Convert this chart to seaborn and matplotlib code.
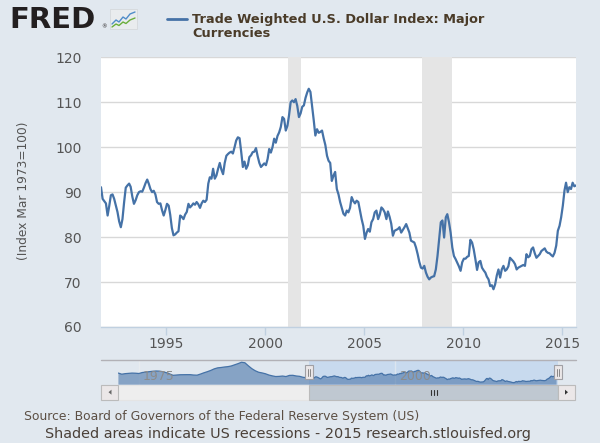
import numpy as np
import pandas as pd
import matplotlib
matplotlib.use("Agg")
import matplotlib.pyplot as plt
import matplotlib.dates as mdates
import matplotlib.transforms as mtransforms
from matplotlib.patches import Rectangle, Polygon
import seaborn as sns

# ---------------- data ----------------
series_start = "1991-08-15"   # monthly observations
index_values = [
    # 1991 (Aug-Dec)
    91.1, 88.5, 88.0, 87.5, 84.8,
    # 1992
    87.0, 89.3, 89.5, 88.5, 87.0, 85.6, 83.5, 82.2, 84.0, 87.8, 91.0, 91.5,
    # 1993
    91.9, 91.2, 89.0, 87.4, 88.2, 89.3, 90.0, 90.2, 90.1, 91.0, 92.0, 92.8,
    # 1994
    91.8, 90.7, 90.0, 90.3, 89.5, 87.8, 87.4, 87.5, 86.0, 84.8, 86.0, 87.4,
    # 1995
    87.0, 85.0, 82.0, 80.4, 80.6, 81.0, 81.3, 84.8, 84.5, 84.0, 85.0, 85.6,
    # 1996
    87.4, 86.6, 87.0, 87.5, 87.2, 87.8, 87.3, 86.5, 87.5, 88.1, 87.8, 88.3,
    # 1997
    91.9, 93.3, 93.0, 95.2, 93.0, 93.7, 95.2, 96.5, 95.0, 94.0, 96.5, 98.1,
    # 1998
    98.5, 98.8, 99.0, 98.6, 100.0, 101.5, 102.2, 102.0, 99.0, 95.6, 96.8, 95.2,
    # 1999
    96.0, 97.8, 98.2, 98.9, 99.0, 99.8, 98.0, 96.5, 95.6, 96.0, 96.4, 96.0,
    # 2000
    97.4, 99.6, 98.8, 100.0, 101.9, 101.0, 102.5, 103.3, 104.5, 106.7, 106.3, 103.7,
    # 2001
    104.8, 107.0, 110.0, 110.4, 110.0, 110.7, 109.2, 106.7, 107.5, 109.0, 109.3, 111.0,
    # 2002
    112.2, 113.0, 112.3, 109.3, 106.0, 102.6, 104.0, 103.2, 103.4, 103.7, 102.0, 100.5,
    # 2003
    98.1, 97.0, 96.5, 92.5, 93.7, 94.5, 90.7, 89.5, 87.8, 86.5, 85.2, 84.8,
    # 2004
    85.9, 85.5, 86.5, 88.9, 88.0, 87.5, 88.1, 87.8, 85.9, 84.0, 82.5, 79.6,
    # 2005
    81.0, 81.8, 81.2, 83.3, 84.0, 85.5, 85.9, 84.0, 85.0, 86.6, 86.2, 85.5,
    # 2006
    84.0, 85.7, 84.5, 83.0, 80.3, 81.4, 81.6, 81.8, 82.2, 81.0, 81.6, 82.2,
    # 2007
    82.9, 82.0, 81.0, 79.2, 79.0, 78.8, 77.7, 76.2, 74.5, 73.2, 73.0, 73.6,
    # 2008
    72.1, 71.2, 70.6, 71.0, 71.2, 71.3, 72.8, 75.8, 79.6, 83.3, 83.7, 79.9,
    # 2009
    84.4, 85.1, 83.3, 81.0, 77.7, 75.8, 75.1, 74.3, 73.5, 72.5, 74.4, 75.2,
    # 2010
    75.2, 75.6, 75.8, 79.4, 78.8, 77.3, 75.1, 72.7, 74.4, 74.7, 73.2, 72.6,
    # 2011
    72.1, 71.2, 70.6, 69.1, 69.3, 68.4, 69.5, 71.5, 72.8, 71.0, 72.8, 73.6,
    # 2012
    72.5, 72.8, 73.5, 75.4, 75.0, 74.6, 74.0, 72.8, 73.2, 73.4, 73.6, 73.8,
    # 2013
    73.6, 76.2, 75.5, 75.8, 77.3, 77.7, 76.4, 75.4, 75.8, 76.2, 76.9, 77.2,
    # 2014
    77.5, 76.8, 76.5, 76.4, 76.0, 75.7, 76.5, 78.1, 81.4, 82.5, 84.4, 87.0,
    # 2015 (Jan-Aug)
    90.4, 92.1, 90.0, 91.1, 90.7, 92.1, 91.3, 91.5,
]

# navigator history (every 4 months, Jan 1973 - May 1991)
history_start = "1973-01-01"
history_values = [
    103.0, 99.0, 101.0, 102.0, 103.0, 102.5, 101.5, 105.0, 106.5, 108.0,
    109.5, 110.5, 110.0, 108.0, 104.5, 100.0, 95.0, 96.2, 97.0, 97.3,
    97.3, 97.3, 96.0, 95.5, 99.5, 104.0, 108.0, 112.5, 118.0, 121.7,
    123.0, 124.8, 126.1, 128.5, 132.7, 137.0, 142.0, 140.0, 129.0, 119.0,
    111.5, 106.0, 103.6, 100.6, 96.0, 93.0, 90.6, 91.2, 92.4, 90.5,
    94.7, 95.0, 92.6, 91.3, 87.8, 86.6,
]

recessions = [("2001-03-01", "2001-11-01"), ("2007-12-01", "2009-06-01")]
x_tick_years = [1995, 2000, 2005, 2010, 2015]
y_tick_values = [60, 70, 80, 90, 100, 110, 120]
nav_label_years = [1975, 2000]

title_lines = ["Trade Weighted U.S. Dollar Index: Major", "Currencies"]
y_label = "(Index Mar 1973=100)"
source_text = "Source: Board of Governors of the Federal Reserve System (US)"
footer_text = "Shaded areas indicate US recessions - 2015 research.stlouisfed.org"

# ---------------- frames ----------------
df = pd.DataFrame({
    "date": pd.date_range(series_start, periods=len(index_values), freq="MS") + pd.Timedelta(days=14),
    "value": index_values,
})
hist = pd.DataFrame({
    "date": pd.date_range(history_start, periods=len(history_values), freq="4MS"),
    "value": history_values,
})
nav_df = pd.concat([hist, df], ignore_index=True)

# ---------------- style ----------------
BG = "#E1E8EF"
LINE = "#4572A7"
sns.set_theme(style="white")
plt.rcParams["font.family"] = ["DejaVu Sans"]

W, H = 600, 443
fig = plt.figure(figsize=(W / 100, H / 100), dpi=100, facecolor=BG)


def px_axes(l, t, r, b, **kw):
    return fig.add_axes([l / W, 1 - b / H, (r - l) / W, (b - t) / H], **kw)


# background helper layer (pixel coordinates)
under = fig.add_axes([0, 0, 1, 1], zorder=0)
under.set_xlim(0, W)
under.set_ylim(H, 0)
under.axis("off")
under.patch.set_alpha(0)

# ---------------- main chart ----------------
ax = px_axes(101, 57.3, 576, 327, zorder=1)
ax.set_facecolor("white")
ax.set_axisbelow(True)
for s, e in recessions:
    ax.axvspan(pd.Timestamp(s), pd.Timestamp(e), color="#E5E5E5", lw=0, zorder=1)
sns.lineplot(data=df, x="date", y="value", ax=ax, color=LINE, lw=1.6, zorder=3)
ax.set_xlim(df["date"].iloc[0], df["date"].iloc[-1])
ax.set_ylim(y_tick_values[0], y_tick_values[-1])
ax.set_yticks(y_tick_values)
ax.set_yticklabels([str(v) for v in y_tick_values])
ax.set_xticks([pd.Timestamp(f"{y}-01-01") for y in x_tick_years])
ax.set_xticklabels([str(y) for y in x_tick_years])
ax.yaxis.grid(True, color="#D8D8D8", lw=1)
ax.xaxis.grid(False)
ax.set_xlabel("")
ax.set_ylabel("")
for side in ["top", "right", "left"]:
    ax.spines[side].set_visible(False)
ax.spines["bottom"].set_color("#C0D0E0")
ax.spines["bottom"].set_linewidth(1)
ax.tick_params(axis="y", length=0, pad=14, labelsize=10, labelcolor="#555555")
ax.tick_params(axis="x", direction="out", length=5.8, width=1, color="#C0D0E0",
               pad=1.5, labelsize=10, labelcolor="#555555", bottom=True)

fig.text(24 / W, 1 - 191 / H, y_label, rotation=90, ha="center", va="center",
         fontsize=8.8, color="#555555")

# ---------------- navigator ----------------
sel_l, sel_r = 309, 558
under.add_patch(Rectangle((sel_l, 360.3), sel_r - sel_l, 24.4, facecolor="#C8DAEE",
                          edgecolor="none"))

NAV_LO, NAV_HI = 61.3, 148.9
nav = px_axes(118.4, 360.3, 556.6, 384.7, zorder=2)
nav.patch.set_alpha(0)
nav_x = mdates.date2num(nav_df["date"].to_numpy())
nav_y = nav_df["value"].to_numpy(dtype=float)
nav.fill_between(nav_x, nav_y, NAV_LO, facecolor=LINE, alpha=0.58, edgecolor="none", zorder=1)
sns.lineplot(x=nav_x, y=nav_y, ax=nav, color=LINE, lw=0.9, zorder=2)
nav.set_xlim(nav_x[0], nav_x[-1])
nav.set_ylim(NAV_LO, NAV_HI)
nav.axis("off")
lab_tr = mtransforms.offset_copy(nav.get_xaxis_transform(), fig=fig, x=3.7, y=0, units="dots")
for yr in nav_label_years:
    xv = mdates.date2num(pd.Timestamp(f"{yr}-01-01"))
    nav.axvline(xv, color="#F0F0F0", lw=1, alpha=0.5, zorder=0)
    nav.text(xv, 0.33, str(yr), transform=lab_tr, ha="left",
             va="center", fontsize=9, color="#8C8C8C", zorder=3)

# ---------------- decorations (pixel coordinates) ----------------
deco = fig.add_axes([0, 0, 1, 1], zorder=5)
deco.set_xlim(0, W)
deco.set_ylim(H, 0)
deco.axis("off")
deco.patch.set_alpha(0)

deco.plot([101, 575.5], [360.3, 360.3], color="#B2B1B6", lw=1)

# scrollbar
deco.add_patch(Rectangle((101, 384.7), 474, 15, facecolor="#EEEEEE", edgecolor="#E4E4E4", lw=0.8))
deco.add_patch(Rectangle((sel_l, 384.7), sel_r - sel_l, 15, facecolor="#BFC8D1",
                         edgecolor="#BBBBBB", lw=0.8))
for bx in (101, 557.7):
    deco.add_patch(Rectangle((bx, 384.7), 17.3, 15, facecolor="#EBE7E8",
                             edgecolor="#BBBBBB", lw=0.8))
deco.add_patch(Polygon([[111.5, 389.7], [111.5, 394.7], [108.5, 392.2]], closed=True,
                       facecolor="#666666", edgecolor="none"))
deco.add_patch(Polygon([[565, 389.7], [565, 394.7], [568, 392.2]], closed=True,
                       facecolor="#333333", edgecolor="none"))
gx = (sel_l + sel_r) / 2
for dx in (-3, 0, 3):
    deco.plot([gx + dx, gx + dx], [389.7, 394.7], color="#333333", lw=0.8)

# navigator handles
for hx in (sel_l, sel_r):
    deco.add_patch(Rectangle((hx - 3.8, 364.7), 7.6, 14.6, facecolor="#EBE7E8",
                             edgecolor="#A0A0A5", lw=0.8))
    for dx in (-1.2, 1.2):
        deco.plot([hx + dx, hx + dx], [368.5, 375.5], color="#888888", lw=0.7)

# ---------------- header ----------------
fig.text(9 / W, 1 - 28.5 / H, "FRED", ha="left", va="baseline", fontsize=21,
         fontweight="heavy", color="#231F20")
fig.text(101 / W, 1 - 28.5 / H, "®", ha="left", va="baseline", fontsize=4, color="#231F20")
deco.add_patch(Rectangle((110, 9), 27, 20, facecolor="#E9ECEE", edgecolor="#D5D9DC", lw=0.6))
deco.plot([112, 116, 119, 123, 126, 130, 135], [24, 20, 22, 17, 19, 14, 12], color="#4F8CC9", lw=1)
deco.plot([112, 116, 119, 123, 126, 130, 135], [27, 24, 25.5, 22, 23.5, 20, 18], color="#6AAE3A", lw=1)

deco.plot([166.7, 186.7], [18.7, 18.7], color=LINE, lw=2)
fig.text(192 / W, 1 - 23.4 / H, title_lines[0], ha="left", va="baseline", fontsize=9.3,
         fontweight="bold", color="#4A3B28")
fig.text(192 / W, 1 - 37.4 / H, title_lines[1], ha="left", va="baseline", fontsize=9.3,
         fontweight="bold", color="#4A3B28")

# ---------------- footer ----------------
fig.text(24 / W, 1 - 420 / H, source_text, ha="left", va="baseline", fontsize=8.9,
         color="#5C4F44")
fig.text(45 / W, 1 - 438 / H, footer_text, ha="left", va="baseline", fontsize=10.4,
         color="#4A4038")

fig.savefig("out.png", dpi=100, facecolor=BG)
